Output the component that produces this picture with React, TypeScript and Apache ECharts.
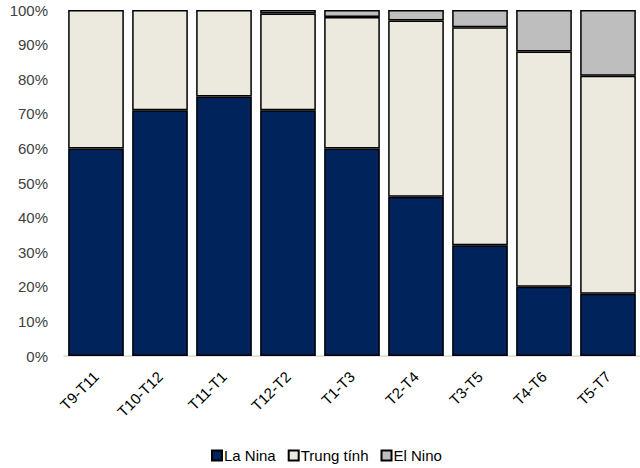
import React, { useEffect, useRef } from "react";
import * as echarts from "echarts";

const categories = ["T9-T11", "T10-T12", "T11-T1", "T12-T2", "T1-T3", "T2-T4", "T3-T5", "T4-T6", "T5-T7"];
const laNina = [60, 71, 75, 71, 60, 46, 32, 20, 18];
const trungTinh = [40, 29, 25, 28, 38, 51, 63, 68, 63];
const elNino = [0, 0, 0, 1, 2, 3, 5, 12, 19];
const seriesNames = ["La Nina", "Trung tính", "El Nino"];
const colors = ["#00235B", "#ECEADF", "#BEBEBE"];

export default function App() {
  const ref = useRef<HTMLDivElement>(null);
  useEffect(() => {
    const chart = echarts.init(ref.current!, null, { renderer: "svg" });
    const data = [laNina, trungTinh, elNino];
    chart.setOption({
      animation: false,
      textStyle: { fontFamily: "Liberation Sans, Arial, sans-serif" },
      grid: { left: 64, right: -4, top: 10, bottom: 112, containLabel: false },
      legend: {
        bottom: 0,
        left: 206,
        itemWidth: 10,
        itemHeight: 10,
        itemGap: 12,
        icon: "rect",
        textStyle: { fontSize: 15, color: "#000", padding: [0, 0, 0, -3] },
        data: seriesNames,
      },
      xAxis: {
        type: "category",
        data: categories,
        axisLine: { lineStyle: { color: "#D9D9D9", width: 1.5 } },
        axisTick: { show: false },
        axisLabel: { rotate: 45, fontSize: 15, color: "#000", margin: 18, interval: 0 },
      },
      yAxis: {
        type: "value",
        min: 0,
        max: 100,
        interval: 10,
        splitLine: { show: false },
        axisLine: { show: false },
        axisTick: { show: false },
        axisLabel: { fontSize: 15, color: "#404040", formatter: "{value}%", margin: 16 },
      },
      series: data.map((d, i) => ({
        name: seriesNames[i],
        type: "bar",
        stack: "total",
        barCategoryGap: "13%",
        data: d.map((v) => (v === 0 ? null : v)),
        itemStyle: { color: colors[i], borderColor: "#000", borderWidth: 1.5 },
      })),
    });
    return () => chart.dispose();
  }, []);
  return <div ref={ref} style={{ width: 640, height: 468, position: "absolute", left: 0, top: 0 }} />;
}
